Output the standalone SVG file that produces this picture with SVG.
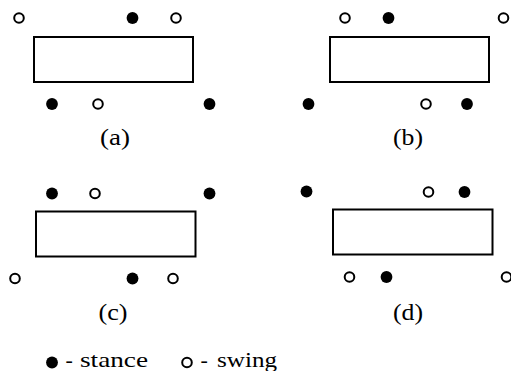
<svg xmlns="http://www.w3.org/2000/svg" width="511" height="371" viewBox="0 0 511 371">
<style>
.body{fill:#fff;stroke:#000;stroke-width:2}
.st{fill:#000}
.sw{fill:#fff;stroke:#000;stroke-width:2}
.lbl{font-family:"Liberation Serif",serif;font-size:23px;fill:#000}
.leg{font-family:"Liberation Serif",serif;font-size:22px;fill:#000}
</style>
<rect width="511" height="371" fill="#fff"/>
<g id="a">
<rect class="body" x="34" y="37" width="159" height="45"/>
<circle class="sw" cx="19" cy="18" r="4.8"/>
<circle class="st" cx="132.5" cy="18" r="5.9"/>
<circle class="sw" cx="176" cy="18" r="4.8"/>
<circle class="st" cx="52" cy="104" r="5.9"/>
<circle class="sw" cx="98" cy="104" r="4.8"/>
<circle class="st" cx="209.5" cy="104" r="5.9"/>
<text class="lbl" x="100" y="145" textLength="30" lengthAdjust="spacingAndGlyphs">(a)</text>
</g>
<g id="b">
<rect class="body" x="330" y="37" width="159" height="45"/>
<circle class="sw" cx="345" cy="18" r="4.8"/>
<circle class="st" cx="388.5" cy="18" r="5.9"/>
<circle class="sw" cx="503.5" cy="18" r="4.8"/>
<circle class="st" cx="308.5" cy="104" r="5.9"/>
<circle class="sw" cx="426" cy="104" r="4.8"/>
<circle class="st" cx="467" cy="104" r="5.9"/>
<text class="lbl" x="393" y="145" textLength="30" lengthAdjust="spacingAndGlyphs">(b)</text>
</g>
<g id="c">
<rect class="body" x="36" y="211.5" width="159.5" height="45"/>
<circle class="st" cx="52" cy="193.5" r="5.9"/>
<circle class="sw" cx="95" cy="193.5" r="4.8"/>
<circle class="st" cx="209.5" cy="193.5" r="5.9"/>
<circle class="sw" cx="15" cy="278.5" r="4.8"/>
<circle class="st" cx="132.5" cy="278.5" r="5.9"/>
<circle class="sw" cx="173" cy="278.5" r="4.8"/>
<text class="lbl" x="98.5" y="320" textLength="29" lengthAdjust="spacingAndGlyphs">(c)</text>
</g>
<g id="d">
<rect class="body" x="333" y="209.5" width="159.5" height="45"/>
<circle class="st" cx="306.5" cy="191.5" r="5.9"/>
<circle class="sw" cx="428.5" cy="192" r="4.8"/>
<circle class="st" cx="464.5" cy="192" r="5.9"/>
<circle class="sw" cx="349.5" cy="277" r="4.8"/>
<circle class="st" cx="386.5" cy="277" r="5.9"/>
<circle class="sw" cx="506.5" cy="277" r="4.8"/>
<text class="lbl" x="393" y="320" textLength="30" lengthAdjust="spacingAndGlyphs">(d)</text>
</g>
<g id="legend">
<circle class="st" cx="52" cy="362.5" r="5.9"/>
<text class="leg" x="65.5" y="367">-</text>
<text class="leg" x="80" y="367" textLength="68" lengthAdjust="spacingAndGlyphs">stance</text>
<circle class="sw" cx="187" cy="362.5" r="4.8"/>
<text class="leg" x="200.5" y="367">-</text>
<text class="leg" x="217" y="367" textLength="60" lengthAdjust="spacingAndGlyphs">swing</text>
</g>
</svg>
